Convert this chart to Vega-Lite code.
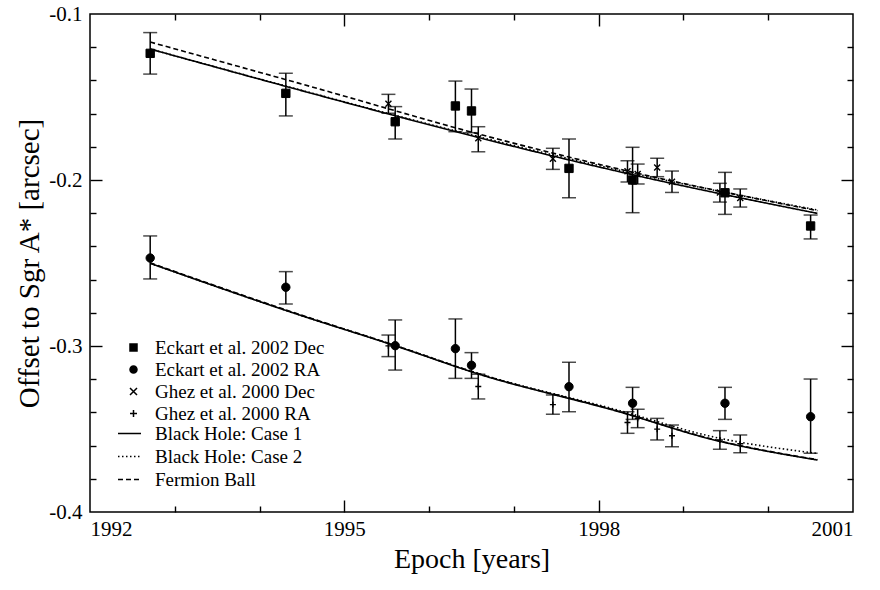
{
  "$schema": "https://vega.github.io/schema/vega-lite/v6.json",
  "width": 763,
  "height": 498,
  "autosize": {"type": "none"},
  "padding": {"left": 90, "top": 14, "right": 27, "bottom": 78},
  "background": "white",
  "config": {
    "view": {"stroke": "black", "strokeWidth": 1.5},
    "font": "Liberation Serif",
    "axis": {"domain": false, "grid": false, "tickColor": "black", "tickWidth": 1.4, "labelColor": "black", "titleColor": "black", "labelFont": "Liberation Serif", "titleFont": "Liberation Serif", "titleFontWeight": "normal"},
    "legend": {"labelFont": "Liberation Serif", "labelFontSize": 19, "labelLimit": 400, "labelColor": "black", "rowPadding": 2, "padding": 0, "orient": "none", "title": null}
  },
  "datasets": {
    "pts": [
      {"src": "Eckart et al. 2002 Dec", "year": 1992.71, "off": -0.1237, "lo": -0.1362, "hi": -0.1112},
      {"src": "Eckart et al. 2002 Dec", "year": 1994.31, "off": -0.1478, "lo": -0.1614, "hi": -0.1357},
      {"src": "Eckart et al. 2002 Dec", "year": 1995.60, "off": -0.1649, "lo": -0.1753, "hi": -0.1558},
      {"src": "Eckart et al. 2002 Dec", "year": 1996.31, "off": -0.1554, "lo": -0.1709, "hi": -0.1404},
      {"src": "Eckart et al. 2002 Dec", "year": 1996.50, "off": -0.1584, "lo": -0.1715, "hi": -0.1452},
      {"src": "Eckart et al. 2002 Dec", "year": 1997.65, "off": -0.1930, "lo": -0.2107, "hi": -0.1753},
      {"src": "Eckart et al. 2002 Dec", "year": 1998.40, "off": -0.2000, "lo": -0.2197, "hi": -0.1803},
      {"src": "Eckart et al. 2002 Dec", "year": 1999.49, "off": -0.2077, "lo": -0.2207, "hi": -0.1954},
      {"src": "Eckart et al. 2002 Dec", "year": 2000.50, "off": -0.2277, "lo": -0.2355, "hi": -0.2211},
      {"src": "Eckart et al. 2002 RA", "year": 1992.71, "off": -0.2470, "lo": -0.2596, "hi": -0.2337},
      {"src": "Eckart et al. 2002 RA", "year": 1994.31, "off": -0.2646, "lo": -0.2747, "hi": -0.2552},
      {"src": "Eckart et al. 2002 RA", "year": 1995.60, "off": -0.2998, "lo": -0.3145, "hi": -0.2843},
      {"src": "Eckart et al. 2002 RA", "year": 1996.31, "off": -0.3016, "lo": -0.3195, "hi": -0.2837},
      {"src": "Eckart et al. 2002 RA", "year": 1996.50, "off": -0.3116, "lo": -0.3195, "hi": -0.3040},
      {"src": "Eckart et al. 2002 RA", "year": 1997.65, "off": -0.3245, "lo": -0.3396, "hi": -0.3098},
      {"src": "Eckart et al. 2002 RA", "year": 1998.40, "off": -0.3345, "lo": -0.3442, "hi": -0.3249},
      {"src": "Eckart et al. 2002 RA", "year": 1999.49, "off": -0.3345, "lo": -0.3442, "hi": -0.3249},
      {"src": "Eckart et al. 2002 RA", "year": 2000.50, "off": -0.3426, "lo": -0.3646, "hi": -0.3199},
      {"src": "Ghez et al. 2000 Dec", "year": 1995.52, "off": -0.1541, "lo": -0.1598, "hi": -0.1484},
      {"src": "Ghez et al. 2000 Dec", "year": 1996.58, "off": -0.1749, "lo": -0.1830, "hi": -0.1679},
      {"src": "Ghez et al. 2000 Dec", "year": 1997.46, "off": -0.1872, "lo": -0.1936, "hi": -0.1809},
      {"src": "Ghez et al. 2000 Dec", "year": 1998.34, "off": -0.1948, "lo": -0.2012, "hi": -0.1884},
      {"src": "Ghez et al. 2000 Dec", "year": 1998.46, "off": -0.1964, "lo": -0.2024, "hi": -0.1904},
      {"src": "Ghez et al. 2000 Dec", "year": 1998.69, "off": -0.1925, "lo": -0.1980, "hi": -0.1869},
      {"src": "Ghez et al. 2000 Dec", "year": 1998.865, "off": -0.2011, "lo": -0.2075, "hi": -0.1946},
      {"src": "Ghez et al. 2000 Dec", "year": 1999.43, "off": -0.2076, "lo": -0.2133, "hi": -0.2020},
      {"src": "Ghez et al. 2000 Dec", "year": 1999.67, "off": -0.2108, "lo": -0.2163, "hi": -0.2054},
      {"src": "Ghez et al. 2000 RA", "year": 1995.52, "off": -0.2999, "lo": -0.3064, "hi": -0.2934},
      {"src": "Ghez et al. 2000 RA", "year": 1996.58, "off": -0.3244, "lo": -0.3319, "hi": -0.3170},
      {"src": "Ghez et al. 2000 RA", "year": 1997.46, "off": -0.3353, "lo": -0.3411, "hi": -0.3295},
      {"src": "Ghez et al. 2000 RA", "year": 1998.34, "off": -0.3461, "lo": -0.3526, "hi": -0.3396},
      {"src": "Ghez et al. 2000 RA", "year": 1998.46, "off": -0.3436, "lo": -0.3492, "hi": -0.3381},
      {"src": "Ghez et al. 2000 RA", "year": 1998.69, "off": -0.3501, "lo": -0.3566, "hi": -0.3436},
      {"src": "Ghez et al. 2000 RA", "year": 1998.865, "off": -0.3541, "lo": -0.3607, "hi": -0.3476},
      {"src": "Ghez et al. 2000 RA", "year": 1999.43, "off": -0.3566, "lo": -0.3622, "hi": -0.3510},
      {"src": "Ghez et al. 2000 RA", "year": 1999.67, "off": -0.3589, "lo": -0.3643, "hi": -0.3536}
    ],
    "lines": [
      {"model": "Black Hole: Case 1", "part": "Dec1", "year": 1992.71, "off": -0.1211},
      {"model": "Black Hole: Case 1", "part": "Dec1", "year": 1994.47, "off": -0.1458},
      {"model": "Black Hole: Case 1", "part": "Dec1", "year": 1996.24, "off": -0.1699},
      {"model": "Black Hole: Case 1", "part": "Dec1", "year": 1996.82, "off": -0.1775},
      {"model": "Black Hole: Case 1", "part": "Dec1", "year": 1998.59, "off": -0.1990},
      {"model": "Black Hole: Case 1", "part": "Dec1", "year": 2000.58, "off": -0.2201},
      {"model": "Black Hole: Case 2", "part": "Dec2", "year": 1992.71, "off": -0.1211},
      {"model": "Black Hole: Case 2", "part": "Dec2", "year": 1994.47, "off": -0.1456},
      {"model": "Black Hole: Case 2", "part": "Dec2", "year": 1996.24, "off": -0.1695},
      {"model": "Black Hole: Case 2", "part": "Dec2", "year": 1998.59, "off": -0.1980},
      {"model": "Black Hole: Case 2", "part": "Dec2", "year": 2000.58, "off": -0.2181},
      {"model": "Fermion Ball", "part": "Dec3", "year": 1992.71, "off": -0.1169},
      {"model": "Fermion Ball", "part": "Dec3", "year": 1994.47, "off": -0.1418},
      {"model": "Fermion Ball", "part": "Dec3", "year": 1996.82, "off": -0.1755},
      {"model": "Fermion Ball", "part": "Dec3", "year": 1998.59, "off": -0.1975},
      {"model": "Fermion Ball", "part": "Dec3", "year": 2000.58, "off": -0.2185},
      {"model": "Black Hole: Case 1", "part": "RA1", "year": 1992.71, "off": -0.2502},
      {"model": "Black Hole: Case 1", "part": "RA1", "year": 1994.47, "off": -0.2813},
      {"model": "Black Hole: Case 1", "part": "RA1", "year": 1995.59, "off": -0.2997},
      {"model": "Black Hole: Case 1", "part": "RA1", "year": 1996.59, "off": -0.3170},
      {"model": "Black Hole: Case 1", "part": "RA1", "year": 1998.24, "off": -0.3396},
      {"model": "Black Hole: Case 1", "part": "RA1", "year": 1999.33, "off": -0.3562},
      {"model": "Black Hole: Case 1", "part": "RA1", "year": 2000.58, "off": -0.3687},
      {"model": "Black Hole: Case 2", "part": "RA2", "year": 1992.71, "off": -0.2502},
      {"model": "Black Hole: Case 2", "part": "RA2", "year": 1994.47, "off": -0.2812},
      {"model": "Black Hole: Case 2", "part": "RA2", "year": 1995.59, "off": -0.2995},
      {"model": "Black Hole: Case 2", "part": "RA2", "year": 1996.59, "off": -0.3167},
      {"model": "Black Hole: Case 2", "part": "RA2", "year": 1998.24, "off": -0.3388},
      {"model": "Black Hole: Case 2", "part": "RA2", "year": 1999.33, "off": -0.3545},
      {"model": "Black Hole: Case 2", "part": "RA2", "year": 2000.58, "off": -0.3647},
      {"model": "Fermion Ball", "part": "RA3", "year": 1992.71, "off": -0.2499},
      {"model": "Fermion Ball", "part": "RA3", "year": 1994.47, "off": -0.2810},
      {"model": "Fermion Ball", "part": "RA3", "year": 1995.59, "off": -0.2995},
      {"model": "Fermion Ball", "part": "RA3", "year": 1996.59, "off": -0.3168},
      {"model": "Fermion Ball", "part": "RA3", "year": 1998.24, "off": -0.3394},
      {"model": "Fermion Ball", "part": "RA3", "year": 1999.33, "off": -0.3560},
      {"model": "Fermion Ball", "part": "RA3", "year": 2000.58, "off": -0.3685}
    ]
  },
  "layer": [
    {
      "data": {"name": "lines"},
      "mark": {"type": "line", "color": "black", "strokeWidth": 1.6, "interpolate": "monotone"},
      "encoding": {
        "x": {"field": "year", "type": "quantitative", "scale": {"domain": [1992, 2001], "nice": false, "zero": false},
              "axis": {"orient": "top", "values": [1993, 1994, 1996, 1997, 1999, 2000], "labels": false, "tickSize": -6, "title": null}},
        "y": {"field": "off", "type": "quantitative", "scale": {"domain": [-0.4, -0.1], "nice": false, "zero": false},
              "axis": {"orient": "right", "values": [-0.38, -0.36, -0.34, -0.32, -0.28, -0.26, -0.24, -0.22, -0.18, -0.16, -0.14, -0.12], "labels": false, "tickSize": -6, "title": null}},
        "strokeDash": {"field": "model", "type": "nominal",
              "scale": {"domain": ["Black Hole: Case 1", "Black Hole: Case 2", "Fermion Ball"], "range": [[1, 0], [1.5, 2.5], [5, 3]]},
              "legend": {"orient": "none", "legendX": 27, "legendY": 407, "rowPadding": -2, "symbolType": "stroke", "symbolSize": 529, "symbolStrokeWidth": 1.5, "symbolStrokeColor": "black", "labelOffset": 13}},
        "detail": {"field": "part"}
      }
    },
    {
      "data": {"name": "pts"},
      "mark": {"type": "rule", "color": "black", "strokeWidth": 1.5},
      "encoding": {
        "x": {"field": "year", "type": "quantitative", "scale": {"domain": [1992, 2001], "nice": false, "zero": false},
              "axis": {"orient": "bottom", "values": [1992, 1995, 1998, 2001], "format": "d", "ticks": false, "labelFontSize": 21, "labelPadding": 6, "title": "Epoch [years]", "titleFontSize": 28, "titlePadding": 6}},
        "y": {"field": "lo", "type": "quantitative", "scale": {"domain": [-0.4, -0.1], "nice": false, "zero": false},
              "axis": {"orient": "left", "values": [-0.4, -0.3, -0.2, -0.1], "ticks": false, "labelFontSize": 21, "labelPadding": 8,
                       "labelExpr": "datum.value < 0 ? '-' + format(-datum.value, '.1f') : format(datum.value, '.1f')",
                       "title": "Offset to Sgr A* [arcsec]", "titleFontSize": 29, "titlePadding": 4}},
        "y2": {"field": "hi"}
      }
    },
    {
      "data": {"name": "pts"},
      "mark": {"type": "tick", "orient": "horizontal", "color": "black", "size": 14, "thickness": 1.5},
      "encoding": {
        "x": {"field": "year", "type": "quantitative", "scale": {"domain": [1992, 2001], "nice": false, "zero": false},
              "axis": {"orient": "bottom", "values": [1995, 1998], "labels": false, "tickSize": -12, "title": null}},
        "y": {"field": "lo", "type": "quantitative", "scale": {"domain": [-0.4, -0.1], "nice": false, "zero": false},
              "axis": {"orient": "left", "values": [-0.3, -0.2], "labels": false, "tickSize": -12, "title": null}}
      }
    },
    {
      "data": {"name": "pts"},
      "mark": {"type": "tick", "orient": "horizontal", "color": "black", "size": 14, "thickness": 1.5},
      "encoding": {
        "x": {"field": "year", "type": "quantitative", "scale": {"domain": [1992, 2001], "nice": false, "zero": false},
              "axis": {"orient": "bottom", "values": [1993, 1994, 1996, 1997, 1999, 2000], "labels": false, "tickSize": -6, "title": null}},
        "y": {"field": "hi", "type": "quantitative", "scale": {"domain": [-0.4, -0.1], "nice": false, "zero": false},
              "axis": {"orient": "left", "values": [-0.38, -0.36, -0.34, -0.32, -0.28, -0.26, -0.24, -0.22, -0.18, -0.16, -0.14, -0.12], "labels": false, "tickSize": -6, "title": null}}
      }
    },
    {
      "data": {"name": "pts"},
      "transform": [{"filter": "indexof(datum.src, 'Eckart') == 0"}],
      "mark": {"type": "point", "filled": true, "color": "black", "stroke": "black", "strokeWidth": 1, "opacity": 1, "size": 70},
      "encoding": {
        "x": {"field": "year", "type": "quantitative", "scale": {"domain": [1992, 2001], "nice": false, "zero": false},
              "axis": {"orient": "top", "values": [1995, 1998], "labels": false, "tickSize": -12, "title": null}},
        "y": {"field": "off", "type": "quantitative", "scale": {"domain": [-0.4, -0.1], "nice": false, "zero": false},
              "axis": {"orient": "right", "values": [-0.3, -0.2], "labels": false, "tickSize": -12, "title": null}},
        "shape": {"field": "src", "type": "nominal",
              "scale": {"domain": ["Eckart et al. 2002 Dec", "Eckart et al. 2002 RA", "Ghez et al. 2000 Dec", "Ghez et al. 2000 RA"],
                        "range": ["square", "circle", "M-1,-1L1,1M-1,1L1,-1", "M-1,0L1,0M0,-1L0,1"]},
              "legend": {"orient": "none", "legendX": 34, "legendY": 324, "symbolSize": 49, "labelOffset": 12,
                         "encode": {"symbols": {"update": {"fill": {"value": "black"}, "stroke": {"value": "black"}, "strokeWidth": {"value": 1.3}, "opacity": {"value": 1}}}}}}
      }
    },
    {
      "data": {"name": "pts"},
      "transform": [{"filter": "indexof(datum.src, 'Ghez') == 0"}],
      "mark": {"type": "point", "filled": true, "color": "black", "stroke": "black", "strokeWidth": 1.4, "opacity": 1, "size": 36},
      "encoding": {
        "x": {"field": "year", "type": "quantitative", "scale": {"domain": [1992, 2001], "nice": false, "zero": false}, "axis": null},
        "y": {"field": "off", "type": "quantitative", "scale": {"domain": [-0.4, -0.1], "nice": false, "zero": false}, "axis": null},
        "shape": {"field": "src", "type": "nominal"}
      }
    }
  ],
  "resolve": {"axis": {"x": "independent", "y": "independent"}}
}
